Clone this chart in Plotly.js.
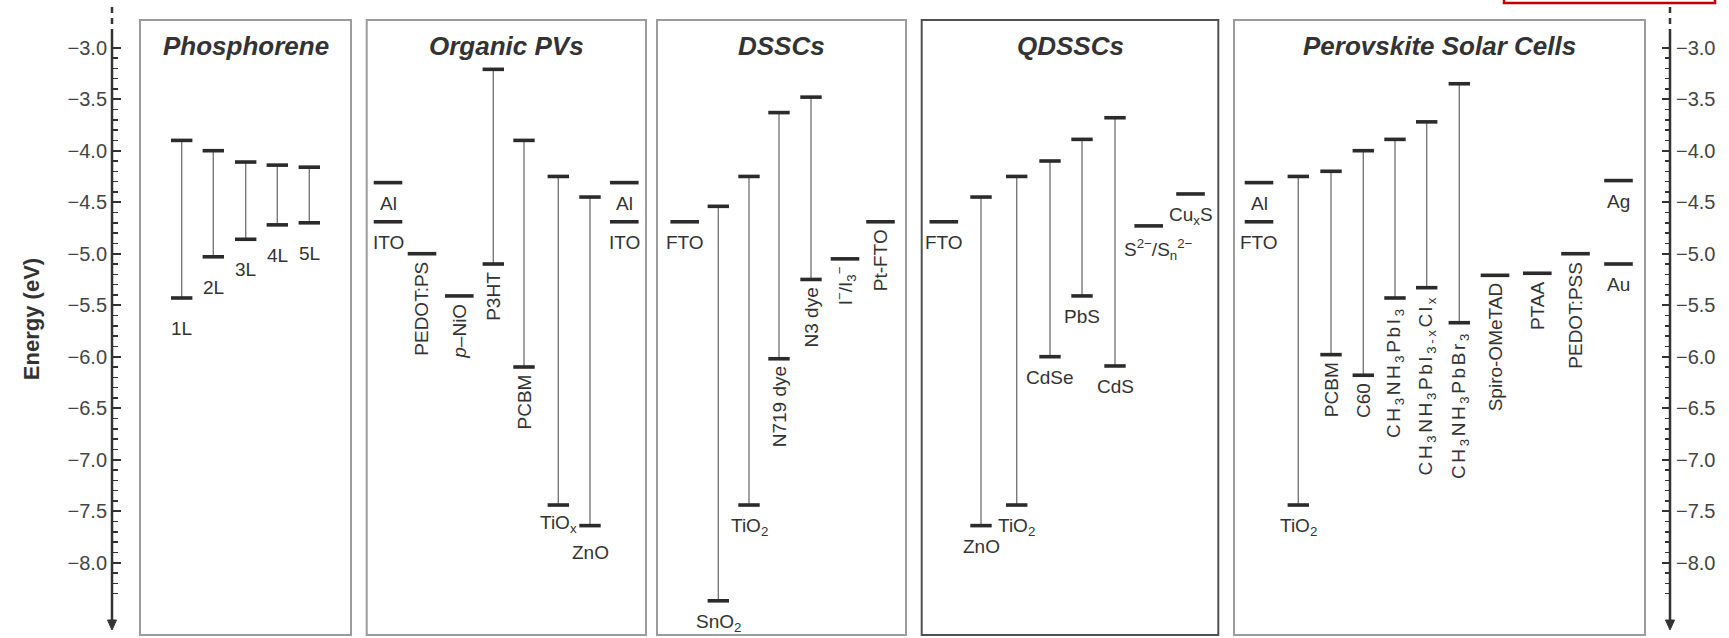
<!DOCTYPE html>
<html><head><meta charset="utf-8">
<script src="https://cdn.plot.ly/plotly-3.0.1.min.js"></script>
<style>
html,body{margin:0;padding:0;background:#fff;}
#chart{width:1729px;height:638px;}
text.annotation-text[data-unformatted^="CH<sub>"]{letter-spacing:2.6px;}
</style>
</head><body><div id="chart"></div>
<script>
// ---------------- DATA ----------------
const panelTitles = ['Phosphorene', 'Organic PVs', 'DSSCs', 'QDSSCs', 'Perovskite Solar Cells'];

// material labels
const materials = [
  '1L','2L','3L','4L','5L',
  'Al','ITO','PEDOT:PS','<i>p</i>–NiO','P3HT','PCBM','TiO<sub>x</sub>','ZnO','Al','ITO',
  'FTO','SnO<sub>2</sub>','TiO<sub>2</sub>','N719 dye','N3 dye','I<sup>−</sup>/I<sub>3</sub><sup>−</sup>','Pt-FTO',
  'FTO','ZnO','TiO<sub>2</sub>','CdSe','PbS','CdS','S<sup>2−</sup>/S<sub>n</sub><sup>2−</sup>','Cu<sub>x</sub>S',
  'Al','FTO','TiO<sub>2</sub>','PCBM','C60','CH<sub>3</sub>NH<sub>3</sub>PbI<sub>3</sub>',
  'CH<sub>3</sub>NH<sub>3</sub>PbI<sub>3-x</sub>Cl<sub>x</sub>','CH<sub>3</sub>NH<sub>3</sub>PbBr<sub>3</sub>',
  'Spiro-OMeTAD','PTAA','PEDOT:PSS','Ag','Au'
];
// panel index of each material
const panelOf = [
  0,0,0,0,0,
  1,1,1,1,1,1,1,1,1,1,
  2,2,2,2,2,2,2,
  3,3,3,3,3,3,3,3,
  4,4,4,4,4,4,4,4,4,4,4,4,4
];
// upper level (LUMO / CB), null for a single level (eV)
const upperLevel = [
  -3.90,-4.00,-4.11,-4.14,-4.16,
  null,null,null,null,-3.21,-3.90,-4.25,-4.45,null,null,
  null,-4.54,-4.25,-3.63,-3.48,null,null,
  null,-4.45,-4.25,-4.10,-3.89,-3.68,null,null,
  null,null,-4.25,-4.20,-4.00,-3.89,-3.72,-3.35,null,null,null,null,null
];
// lower level (HOMO / VB) or the single level (eV)
const lowerLevel = [
  -5.43,-5.03,-4.86,-4.72,-4.70,
  -4.31,-4.69,-5.00,-5.41,-5.10,-6.10,-7.44,-7.64,-4.31,-4.69,
  -4.69,-8.37,-7.44,-6.02,-5.25,-5.05,-4.69,
  -4.69,-7.64,-7.44,-6.00,-5.41,-6.09,-4.73,-4.42,
  -4.31,-4.69,-7.44,-5.98,-6.18,-5.43,-5.33,-5.67,-5.21,-5.19,-5.00,-4.29,-5.10
];
const yTickVals = [-3.0,-3.5,-4.0,-4.5,-5.0,-5.5,-6.0,-6.5,-7.0,-7.5,-8.0];

// ---------------- LAYOUT POSITIONS (pixels along x) ----------------
const xPos = [
  181.7,213.3,245.7,277.3,309.3,
  388,388,422,459.3,493.3,524,558.3,590,624.3,624.3,
  684.7,718.3,749,779,811,845,880.5,
  943.8,981,1016.7,1050,1082,1115,1148.7,1190.5,
  1259,1259,1298.3,1331,1363.3,1395,1426.7,1459.3,1495,1537.3,1575.5,1618.5,1618.5
];
// label orientation: 1 = vertical (rotated), 0 = horizontal
const labelVertical = [
  0,0,0,0,0,
  0,0,1,1,1,1,0,0,0,0,
  0,0,0,1,1,1,1,
  0,0,0,0,0,0,0,0,
  0,0,0,1,1,1,1,1,1,1,1,0,0
];
const labelXShift = materials.map((m,i)=> i===28 ? 10 : 0);
const labelYExtra = materials.map((m,i)=> i===12 ? -6 : (i===11 ? 3 : 0));
const panelLeft  = [140, 366.7, 657, 921.7, 1234];
const panelRight = [351, 646, 906, 1218.3, 1645];
const panelLabelGap = [-18, -8, -8, -8, -8];

// ---------------- STYLE ----------------
const W = 1729, H = 638;
const FONT = 'Liberation Sans, Arial, Helvetica, sans-serif';
const CAP = 10.7, BAR = 14.3;
const AX_L = 112, AX_R = 1670;
const pxToE = py => -3 - (py - 47.7) / 103;   // pixel row -> energy (for decorations only)
const yRange = [pxToE(H), pxToE(0)];
const pyPaper = py => 1 - py / H;

// ---------------- TRACES ----------------
const vx = [], vy = [], bx = [], by = [];
materials.forEach((m, i) => {
  const xc = xPos[i], lo = lowerLevel[i], up = upperLevel[i];
  if (up !== null) {
    vx.push(xc, xc, null); vy.push(up, lo, null);
    bx.push(xc - CAP, xc + CAP, null, xc - CAP, xc + CAP, null);
    by.push(up, up, null, lo, lo, null);
  } else {
    bx.push(xc - BAR, xc + BAR, null); by.push(lo, lo, null);
  }
});
const traces = [
  {x: vx, y: vy, mode: 'lines', line: {color: '#7a7a7a', width: 1.4}, hoverinfo: 'skip', showlegend: false},
  {x: bx, y: by, mode: 'lines', line: {color: '#2b2b2b', width: 3.6}, hoverinfo: 'skip', showlegend: false},
  {x: [null], y: [null], yaxis: 'y2', mode: 'lines', hoverinfo: 'skip', showlegend: false}
];

// ---------------- ANNOTATIONS ----------------
const annotations = [];
materials.forEach((m, i) => {
  const rot = labelVertical[i] === 1;
  annotations.push({
    x: xPos[i], y: lowerLevel[i], xref: 'x', yref: 'y',
    text: m, showarrow: false,
    textangle: rot ? -90 : 0,
    xanchor: 'center', yanchor: 'top',
    xshift: labelXShift[i],
    yshift: (rot ? -6 : panelLabelGap[panelOf[i]]) + labelYExtra[i],
    font: {family: FONT, size: 19, color: '#333'}
  });
});
panelTitles.forEach((t, p) => {
  annotations.push({
    x: (panelLeft[p] + panelRight[p]) / 2, y: pyPaper(46), xref: 'x', yref: 'paper',
    text: '<b><i>' + t + '</i></b>', showarrow: false, xanchor: 'center', yanchor: 'middle',
    font: {family: FONT, size: 26, color: '#333'}
  });
});

// ---------------- SHAPES ----------------
const shapes = [];
panelTitles.forEach((t, p) => {
  shapes.push({type: 'rect', xref: 'x', yref: 'paper',
    x0: panelLeft[p], x1: panelRight[p], y0: pyPaper(635), y1: pyPaper(20),
    line: {color: p === 3 ? '#505050' : '#9c9c9c', width: 2}, fillcolor: 'rgba(0,0,0,0)', layer: 'below'});
});
[AX_L, AX_R].forEach(ax => {
  shapes.push({type: 'line', xref: 'x', yref: 'y', x0: ax, x1: ax, y0: pxToE(7), y1: pxToE(33),
    line: {color: '#333', width: 2.5, dash: '6px,5px'}});
  shapes.push({type: 'line', xref: 'x', yref: 'y', x0: ax, x1: ax, y0: pxToE(33), y1: pxToE(622),
    line: {color: '#333', width: 2.5}});
  shapes.push({type: 'path', xref: 'x', yref: 'y',
    path: `M ${ax-4.5} ${pxToE(620)} L ${ax+4.5} ${pxToE(620)} L ${ax} ${pxToE(630)} Z`,
    fillcolor: '#333', line: {color: '#333', width: 1}});
});
shapes.push({type: 'rect', xref: 'x', yref: 'paper', x0: 1504, x1: 1715, y0: pyPaper(3), y1: 1.05,
  line: {color: '#c00000', width: 2.5}, fillcolor: 'rgba(0,0,0,0)'});

// minor ticks every 0.1 eV between -3.0 and -8.3 (axis decoration)
const minorVals = [];
for (let k = 31; k <= 83; k++) { if (k % 5 !== 0) minorVals.push(-k / 10); }

const yCommon = {
  range: yRange, showgrid: false, zeroline: false, showline: false,
  tickmode: 'array', tickvals: yTickVals, tickformat: '.1f',
  ticks: 'inside', ticklen: 8, tickwidth: 2, tickcolor: '#333',
  minor: {tickmode: 'array', tickvals: minorVals, ticks: 'inside', ticklen: 5, tickwidth: 1.5, tickcolor: '#333', showgrid: false},
  tickfont: {family: FONT, size: 20, color: '#444'},
  ticklabelstandoff: 5, fixedrange: true
};

const layout = {
  width: W, height: H,
  margin: {l: 0, r: 0, t: 0, b: 0, pad: 0},
  paper_bgcolor: '#fff', plot_bgcolor: '#fff',
  showlegend: false,
  xaxis: {range: [0, W], domain: [0, 1], visible: false, fixedrange: true},
  yaxis: Object.assign({}, yCommon, {anchor: 'free', position: AX_L / W, side: 'left',
    title: {text: 'Energy (eV)', font: {family: FONT, size: 22, color: '#333', weight: 'bold'}, standoff: 20}}),
  yaxis2: Object.assign({}, yCommon, {anchor: 'free', position: AX_R / W, side: 'right', overlaying: 'y'}),
  shapes: shapes,
  annotations: annotations
};

Plotly.newPlot('chart', traces, layout, {staticPlot: true, displayModeBar: false});
</script></body></html>
